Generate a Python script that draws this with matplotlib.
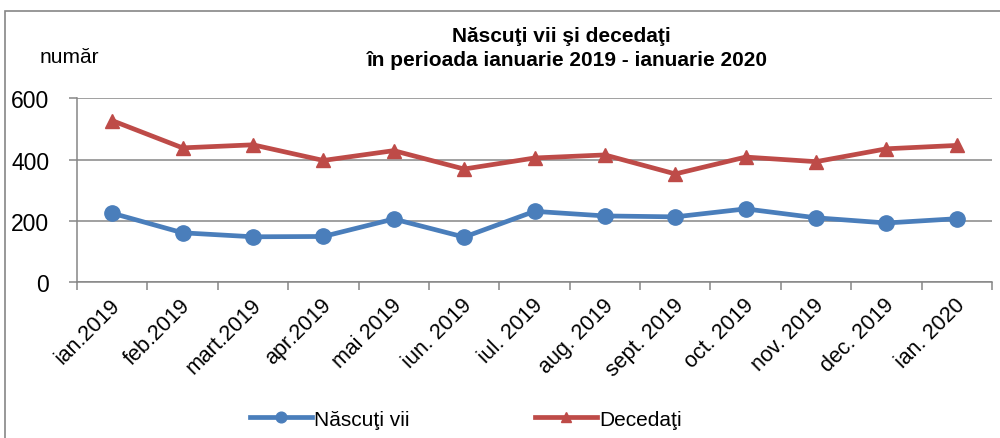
import matplotlib.pyplot as plt
import matplotlib.transforms as mtransforms
import numpy as np
from matplotlib.patches import Rectangle

plt.rcParams['font.family'] = ['Liberation Sans', 'DejaVu Sans']

# data
months = ['ian.2019', 'feb.2019', 'mart.2019', 'apr.2019', 'mai 2019', 'iun. 2019',
          'iul. 2019', 'aug. 2019', 'sept. 2019', 'oct. 2019', 'nov. 2019',
          'dec. 2019', 'ian. 2020']
nascuti = [225, 161, 148, 149, 206, 147, 231, 216, 213, 239, 210, 193, 207]
decedati = [527, 438, 448, 397, 429, 369, 405, 415, 353, 408, 393, 435, 446]

blue = '#4A7EBB'
red = '#BE4B48'
grey = '#868686'

fig = plt.figure(figsize=(10, 4.39), dpi=100)

# chart frame (cut by the right and bottom edge in the original)
fig.patches.append(Rectangle((0.005, -0.05), 1.1, 1 - 0.027 + 0.05, transform=fig.transFigure,
                             fill=False, edgecolor=grey, linewidth=1.2))

ax = fig.add_axes([0.077, 0.355, 0.915, 0.419])
x = np.arange(len(months))

ax.plot(x, nascuti, color=blue, linewidth=3.4, marker='o', markersize=11, label='Născuţi vii')
ax.plot(x, decedati, color=red, linewidth=3.4, marker='^', markersize=10, label='Decedaţi')

ax.set_xlim(-0.5, len(months) - 0.5)
ax.set_ylim(0, 600)
ax.set_yticks([0, 200, 400, 600])
ax.grid(axis='y', color=grey, linewidth=1.1)
ax.set_axisbelow(True)

for s in ['top', 'right']:
    ax.spines[s].set_visible(False)
for s in ['left', 'bottom']:
    ax.spines[s].set_color(grey)
    ax.spines[s].set_linewidth(1.1)

# tick marks between categories, labels at category centers
ax.set_xticks(np.arange(-0.5, len(months)), minor=False)
ax.set_xticklabels([])
ax.set_xticks(x, minor=True)
ax.set_xticklabels(months, minor=True, rotation=45, ha='right', va='center',
                   rotation_mode='anchor', fontsize=15.5)
ax.tick_params(axis='x', which='minor', length=0, pad=14)
ax.tick_params(axis='x', which='major', length=6, color=grey, width=1.1)
ax.tick_params(axis='y', length=6, color=grey, width=1.1, labelsize=16.5, pad=14)

shift = mtransforms.ScaledTranslation(5 / 100, 0, fig.dpi_scale_trans)
for lab in ax.get_xticklabels(minor=True):
    lab.set_transform(lab.get_transform() + shift)

fig.text(0.561, 0.917, 'Născuţi vii şi decedaţi', ha='center', va='center',
         fontsize=15, fontweight='bold')
fig.text(0.567, 0.863, 'în perioada ianuarie 2019 - ianuarie 2020', ha='center', va='center',
         fontsize=15, fontweight='bold')
fig.text(0.04, 0.868, 'număr', ha='left', va='center', fontsize=15)

fig.legend(loc='center', bbox_to_anchor=(0.466, 0.043), ncol=2, frameon=False,
           fontsize=15, handlelength=3.0, columnspacing=6, handletextpad=0.1,
           markerscale=0.7)

fig.savefig('out.png', dpi=100)
